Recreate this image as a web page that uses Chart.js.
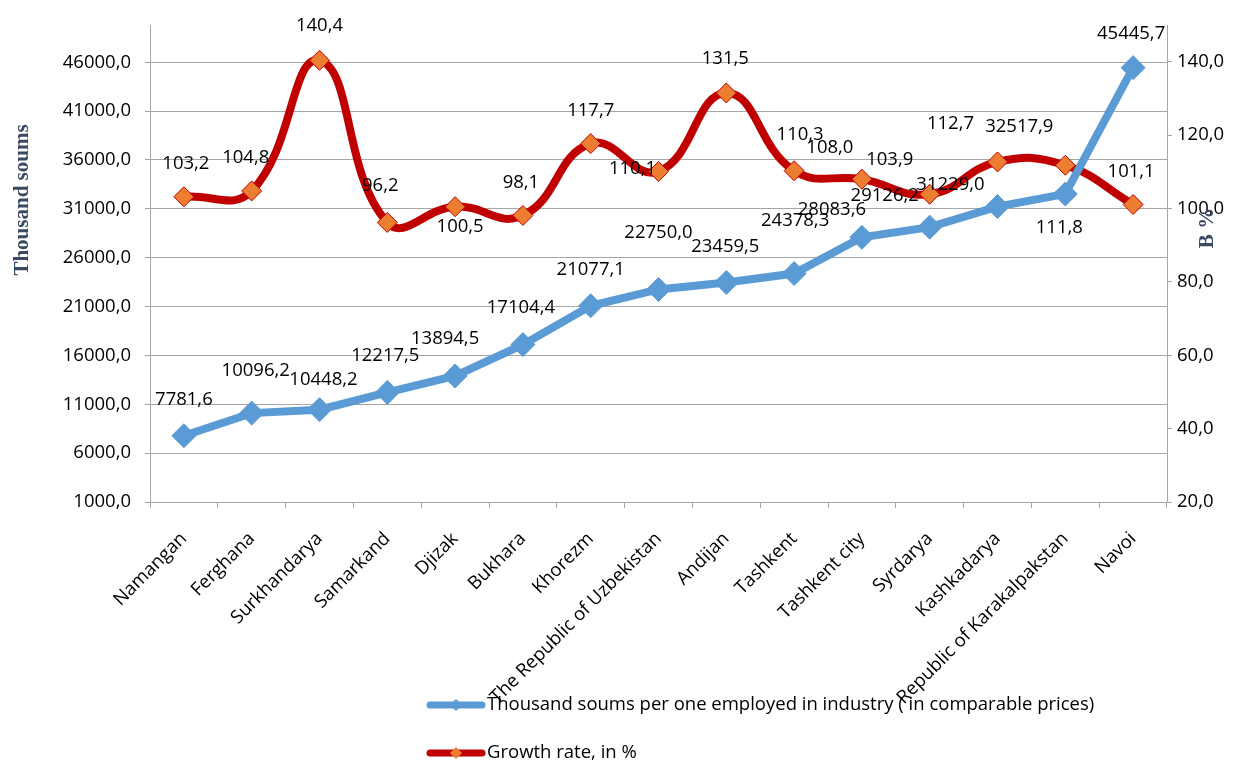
<!DOCTYPE html>
<html>
<head>
<meta charset="utf-8">
<script src="https://cdn.jsdelivr.net/npm/chart.js@4.4.1/dist/chart.umd.min.js"></script>
<style>
  body { margin: 0; background: #fff; }
  #wrap { width: 1239px; height: 764px; }
</style>
</head>
<body>
<div id="wrap"><canvas id="chart"></canvas></div>
<script>
var regions = ['Namangan', 'Ferghana', 'Surkhandarya', 'Samarkand', 'Djizak', 'Bukhara', 'Khorezm',
  'The Republic of Uzbekistan', 'Andijan', 'Tashkent', 'Tashkent city', 'Syrdarya', 'Kashkadarya',
  'Republic of Karakalpakstan', 'Navoi'];
var perEmployed = [7781.6, 10096.2, 10448.2, 12217.5, 13894.5, 17104.4, 21077.1, 22750.0,
  23459.5, 24378.3, 28083.6, 29126.2, 31229.0, 32517.9, 45445.7];
var growthRate = [103.2, 104.8, 140.4, 96.2, 100.5, 98.1, 117.7, 110.1, 131.5, 110.3,
  108.0, 103.9, 112.7, 111.8, 101.1];
var leftTicks = [1000, 6000, 11000, 16000, 21000, 26000, 31000, 36000, 41000, 46000];
var rightTicks = [20, 40, 60, 80, 100, 120, 140];

// label nudges (px) so the value labels sit where Excel put them
var blueShift = [[0, -36], [4, -42], [4, -30], [-2, -37], [-10, -37], [-2, -37], [0, -36], [0, -57],
  [-1, -36], [1, -53], [-30, -28], [-45, -31], [-47, -22], [-46, -67], [-2, -34]];
var redShift = [[2, -33], [-6, -33], [0, -35], [-7, -37], [5, 20], [-2, -33], [0, -33], [-26, -3],
  [-1, -34], [6, -36], [-32, -31], [-40, -34], [-47, -38], [-6, 62], [-2, -33]];

var font = "'Open Sans', sans-serif";
var fontSize = 18.5;
function fmt(v) { return Number(v).toFixed(1).replace('.', ','); }

var valueLabels = {
  id: 'valueLabels',
  afterDatasetsDraw: function (chart) {
    var ctx = chart.ctx;
    ctx.save();
    ctx.font = fontSize + 'px ' + font;
    ctx.fillStyle = '#000';
    ctx.textAlign = 'center';
    ctx.textBaseline = 'middle';
    chart.data.datasets.forEach(function (ds, i) {
      var shift = i === 0 ? blueShift : redShift;
      chart.getDatasetMeta(i).data.forEach(function (pt, j) {
        ctx.fillText(fmt(ds.data[j]), pt.x + shift[j][0], pt.y + shift[j][1]);
      });
    });
    ctx.restore();
  }
};

function axisTitle(ctx, text, x, y) {
  ctx.save();
  ctx.fillStyle = '#3b4a63';
  ctx.font = "bold 21px 'Liberation Serif', serif";
  ctx.textAlign = 'center';
  ctx.textBaseline = 'middle';
  ctx.translate(x, y);
  ctx.rotate(-Math.PI / 2);
  ctx.fillText(text, 0, 0);
  ctx.restore();
}

var extras = {
  id: 'extras',
  afterDraw: function (chart) {
    var ctx = chart.ctx;
    axisTitle(ctx, 'Thousand soums', 23, 200);
    axisTitle(ctx, 'В %', 1208, 228);

    // legend, stacked like the original
    ctx.save();
    ctx.font = fontSize + 'px ' + font;
    ctx.textBaseline = 'middle';
    chart.data.datasets.forEach(function (ds, i) {
      var y = 705 + i * 48;
      ctx.strokeStyle = ds.borderColor;
      ctx.lineWidth = 7;
      ctx.lineCap = 'round';
      ctx.beginPath();
      ctx.moveTo(430, y);
      ctx.lineTo(482, y);
      ctx.stroke();
      ctx.fillStyle = ds.pointBackgroundColor;
      ctx.beginPath();
      ctx.moveTo(456, y - 6);
      ctx.lineTo(462, y);
      ctx.lineTo(456, y + 6);
      ctx.lineTo(450, y);
      ctx.closePath();
      ctx.fill();
      ctx.fillStyle = '#000';
      ctx.fillText(ds.label, 487, y);
    });
    ctx.restore();
  }
};

new Chart(document.getElementById('chart'), {
  type: 'line',
  data: {
    labels: regions,
    datasets: [{
      label: 'Thousand soums per one employed in industry ( in comparable prices)',
      data: perEmployed,
      yAxisID: 'y',
      borderColor: '#5b9bd5',
      borderWidth: 8,
      tension: 0,
      pointStyle: 'rectRot',
      pointRadius: 12,
      pointHoverRadius: 12,
      pointBackgroundColor: '#5b9bd5',
      pointBorderColor: '#5b9bd5',
      pointBorderWidth: 1
    }, {
      label: 'Growth rate, in %',
      data: growthRate,
      yAxisID: 'y1',
      borderColor: '#c00000',
      borderWidth: 8,
      tension: 0.45,
      pointStyle: 'rectRot',
      pointRadius: 10,
      pointHoverRadius: 10,
      pointBackgroundColor: '#ed7d31',
      pointBorderColor: '#c00000',
      pointBorderWidth: 1
    }]
  },
  options: {
    responsive: true,
    maintainAspectRatio: false,
    animation: false,
    layout: { padding: { top: 22, bottom: 10, left: 0, right: 0 } },
    plugins: {
      legend: { display: false },
      tooltip: { enabled: false }
    },
    scales: {
      x: {
        offset: true,
        grid: { offset: true, drawOnChartArea: false, drawTicks: true, tickLength: 6, color: '#a6a6a6' },
        border: { color: '#a6a6a6' },
        ticks: {
          autoSkip: false, minRotation: 45, maxRotation: 45, padding: 20,
          color: '#000', font: { family: font, size: fontSize }
        },
        afterFit: function (s) { s.height = 764 - 502 - 10; }
      },
      y: {
        position: 'left',
        min: 1000,
        max: 49800,
        afterBuildTicks: function (s) {
          s.ticks = leftTicks.map(function (v) { return { value: v }; });
        },
        ticks: {
          padding: 14, color: '#000',
          font: { family: font, size: fontSize },
          callback: function (v) { return fmt(v); }
        },
        grid: { color: '#a6a6a6', tickLength: 5 },
        border: { color: '#a6a6a6' },
        afterFit: function (s) { s.width = 150; }
      },
      y1: {
        position: 'right',
        min: 20,
        max: 150,
        afterBuildTicks: function (s) {
          s.ticks = rightTicks.map(function (v) { return { value: v }; });
        },
        ticks: {
          padding: 5, color: '#000',
          font: { family: font, size: fontSize },
          callback: function (v) { return fmt(v); }
        },
        grid: { drawOnChartArea: false, color: '#a6a6a6', tickLength: 5 },
        border: { color: '#a6a6a6' },
        afterFit: function (s) { s.width = 72; }
      }
    }
  },
  plugins: [valueLabels, extras]
});
</script>
</body>
</html>
